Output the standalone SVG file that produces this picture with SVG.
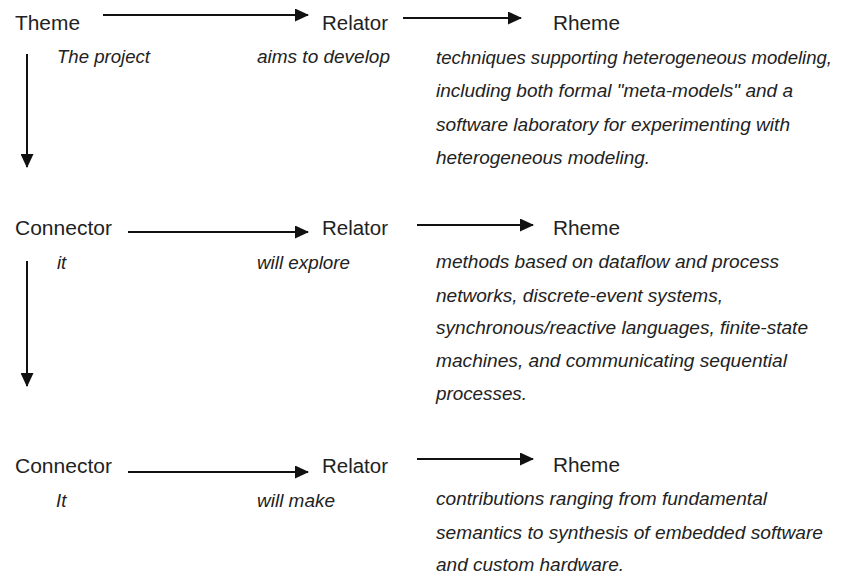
<svg xmlns="http://www.w3.org/2000/svg" width="844" height="576" viewBox="0 0 844 576">
  <style>
    .lbl { font-family: "Liberation Sans", Arial, sans-serif; font-size: 20px; fill: #222; }
    .it { font-family: "Liberation Sans", Arial, sans-serif; font-size: 18.5px; font-style: italic; fill: #222; }
    .conn line { stroke: #111; stroke-width: 2; }
  </style>
  <defs>
    <marker id="ah" markerUnits="userSpaceOnUse" markerWidth="14" markerHeight="13" refX="13" refY="6.5" orient="auto">
      <path d="M0,0 L14,6.5 L0,13 Z" fill="#111"/>
    </marker>
  </defs>
  <rect width="844" height="576" fill="#fff"/>

  <g id="connectors" class="conn">
    <line x1="103" y1="15" x2="308" y2="15" marker-end="url(#ah)"/>
    <line x1="403" y1="18" x2="521" y2="18" marker-end="url(#ah)"/>
    <line x1="27" y1="54" x2="27" y2="167" marker-end="url(#ah)"/>
    <line x1="128" y1="232" x2="308" y2="232" marker-end="url(#ah)"/>
    <line x1="417" y1="225" x2="533" y2="225" marker-end="url(#ah)"/>
    <line x1="27" y1="261" x2="27" y2="386" marker-end="url(#ah)"/>
    <line x1="128" y1="472" x2="308" y2="472" marker-end="url(#ah)"/>
    <line x1="417" y1="459" x2="533" y2="459" marker-end="url(#ah)"/>
  </g>

  <g id="theme1">
    <text class="lbl" x="15" y="30" textLength="65" lengthAdjust="spacingAndGlyphs">Theme</text>
    <text class="it" x="57" y="63" textLength="93" lengthAdjust="spacingAndGlyphs">The project</text>
  </g>
  <g id="relator1">
    <text class="lbl" x="322" y="30" textLength="66" lengthAdjust="spacingAndGlyphs">Relator</text>
    <text class="it" x="257" y="63" textLength="133" lengthAdjust="spacingAndGlyphs">aims to develop</text>
  </g>
  <g id="rheme1">
    <text class="lbl" x="553" y="30" textLength="67" lengthAdjust="spacingAndGlyphs">Rheme</text>
    <text class="it" x="436" y="63.5" textLength="396" lengthAdjust="spacingAndGlyphs">techniques supporting heterogeneous modeling,</text>
    <text class="it" x="436" y="97" textLength="357" lengthAdjust="spacingAndGlyphs">including both formal "meta-models" and a</text>
    <text class="it" x="436" y="130.5" textLength="354" lengthAdjust="spacingAndGlyphs">software laboratory for experimenting with</text>
    <text class="it" x="436" y="164" textLength="214" lengthAdjust="spacingAndGlyphs">heterogeneous modeling.</text>
  </g>

  <g id="connector2">
    <text class="lbl" x="15" y="235" textLength="97" lengthAdjust="spacingAndGlyphs">Connector</text>
    <text class="it" x="57" y="269">it</text>
  </g>
  <g id="relator2">
    <text class="lbl" x="322" y="235" textLength="66" lengthAdjust="spacingAndGlyphs">Relator</text>
    <text class="it" x="257" y="269" textLength="93" lengthAdjust="spacingAndGlyphs">will explore</text>
  </g>
  <g id="rheme2">
    <text class="lbl" x="553" y="235" textLength="67" lengthAdjust="spacingAndGlyphs">Rheme</text>
    <text class="it" x="436" y="268" textLength="343" lengthAdjust="spacingAndGlyphs">methods based on dataflow and process</text>
    <text class="it" x="436" y="302" textLength="287" lengthAdjust="spacingAndGlyphs">networks, discrete-event systems,</text>
    <text class="it" x="436" y="334" textLength="372" lengthAdjust="spacingAndGlyphs">synchronous/reactive languages, finite-state</text>
    <text class="it" x="436" y="367" textLength="351" lengthAdjust="spacingAndGlyphs">machines, and communicating sequential</text>
    <text class="it" x="436" y="400" textLength="91" lengthAdjust="spacingAndGlyphs">processes.</text>
  </g>

  <g id="connector3">
    <text class="lbl" x="15" y="473" textLength="97" lengthAdjust="spacingAndGlyphs">Connector</text>
    <text class="it" x="56" y="507">It</text>
  </g>
  <g id="relator3">
    <text class="lbl" x="322" y="473" textLength="66" lengthAdjust="spacingAndGlyphs">Relator</text>
    <text class="it" x="257" y="507" textLength="78" lengthAdjust="spacingAndGlyphs">will make</text>
  </g>
  <g id="rheme3">
    <text class="lbl" x="553" y="472" textLength="67" lengthAdjust="spacingAndGlyphs">Rheme</text>
    <text class="it" x="436" y="505" textLength="331" lengthAdjust="spacingAndGlyphs">contributions ranging from fundamental</text>
    <text class="it" x="436" y="539" textLength="387" lengthAdjust="spacingAndGlyphs">semantics to synthesis of embedded software</text>
    <text class="it" x="436" y="571" textLength="188" lengthAdjust="spacingAndGlyphs">and custom hardware.</text>
  </g>
</svg>
